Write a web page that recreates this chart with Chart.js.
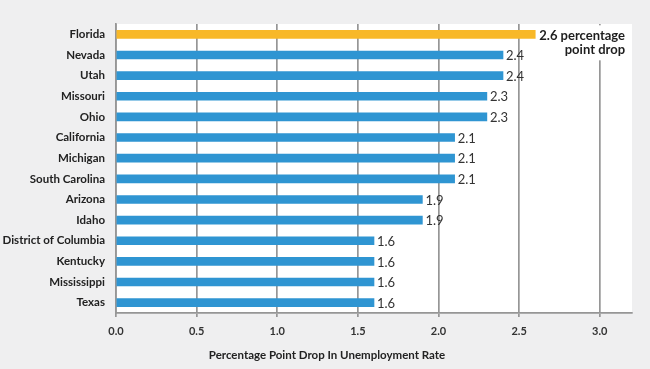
<!DOCTYPE html>
<html>
<head>
<meta charset="utf-8">
<script src="https://cdn.jsdelivr.net/npm/chart.js@4/dist/chart.umd.min.js"></script>
<style>
  html, body { margin: 0; padding: 0; background: #efeff0; }
  #wrap { width: 650px; height: 369px; }
</style>
</head>
<body>
<div id="wrap"><canvas id="barCanvas" width="650" height="369"></canvas></div>
<script>
// data
var states = ["Florida", "Nevada", "Utah", "Missouri", "Ohio", "California", "Michigan",
  "South Carolina", "Arizona", "Idaho", "District of Columbia", "Kentucky", "Mississippi", "Texas"];
var drops = [2.6, 2.4, 2.4, 2.3, 2.3, 2.1, 2.1, 2.1, 1.9, 1.9, 1.6, 1.6, 1.6, 1.6];
var tickValues = [0, 0.5, 1.0, 1.5, 2.0, 2.5, 3.0];
var tickLabels = ["0.0", "0.5", "1.0", "1.5", "2.0", "2.5", "3.0"];
var topNote = ["2.6 percentage", "point drop"];
var axisTitle = "Percentage Point Drop In Unemployment Rate";

var FONT = "Lato, 'Liberation Sans', sans-serif";
var barColors = drops.map(function (v, i) { return i === 0 ? "#f8b828" : "#2f95d2"; });

// white plot area on the grey page
var plotBg = {
  id: "plotBg",
  beforeDraw: function (chart) {
    var a = chart.chartArea, c = chart.ctx;
    c.save();
    c.fillStyle = "#ffffff";
    c.fillRect(a.left, a.top, a.right - a.left, a.bottom - a.top);
    c.restore();
  }
};

// value labels at the end of each bar
var valueLabels = {
  id: "valueLabels",
  afterDatasetsDraw: function (chart) {
    var c = chart.ctx;
    var meta = chart.getDatasetMeta(0);
    c.save();
    c.textBaseline = "middle";
    meta.data.forEach(function (bar, i) {
      if (i === 0) {
        c.font = "bold 13px " + FONT;
        var w1 = c.measureText(topNote[0]).width;
        var x0 = bar.x + 4;
        c.fillStyle = "#ffffff";
        c.fillRect(x0 - 1, bar.y - 9, w1 + 4, 35);
        c.fillStyle = "#1e1e1e";
        c.textAlign = "left";
        c.fillText(topNote[0], x0, bar.y + 1);
        c.textAlign = "right";
        c.fillText(topNote[1], x0 + w1, bar.y + 15);
      } else {
        c.font = "13px " + FONT;
        c.fillStyle = "#333333";
        c.textAlign = "left";
        c.fillText(drops[i].toFixed(1), bar.x + 3, bar.y + 1);
      }
    });
    c.restore();
  }
};

// x axis title, centred on the whole picture like the original
var bottomTitle = {
  id: "bottomTitle",
  afterDraw: function (chart) {
    var c = chart.ctx;
    c.save();
    c.font = "bold 11.5px " + FONT;
    c.fillStyle = "#222222";
    c.textAlign = "center";
    c.textBaseline = "middle";
    c.fillText(axisTitle, chart.width / 2 + 2, chart.height - 14);
    c.restore();
  }
};

var ctx = document.getElementById("barCanvas");
var chart = new Chart(ctx, {
  type: "bar",
  data: {
    labels: states,
    datasets: [{
      data: drops,
      backgroundColor: barColors,
      barThickness: 8,
      borderWidth: 0
    }]
  },
  plugins: [plotBg, valueLabels, bottomTitle],
  options: {
    indexAxis: "y",
    responsive: false,
    animation: false,
    layout: { padding: { top: 24, right: 18, left: 0, bottom: 0 } },
    plugins: {
      legend: { display: false },
      tooltip: { enabled: false }
    },
    scales: {
      x: {
        min: 0,
        max: 3.2,
        afterBuildTicks: function (scale) {
          scale.ticks = tickValues.map(function (v) { return { value: v }; });
        },
        afterFit: function (scale) { scale.height = 56; },
        ticks: {
          callback: function (v, i) { return tickLabels[i]; },
          color: "#333333",
          font: { family: FONT, size: 11, weight: "bold" },
          padding: 8,
          maxRotation: 0
        },
        grid: { color: "#969696", lineWidth: 1.7, tickLength: 4, drawTicks: true },
        border: { color: "#969696", width: 1.7 }
      },
      y: {
        afterFit: function (scale) { scale.width = 116; },
        ticks: {
          color: "#222222",
          font: { family: FONT, size: 11.5, weight: "bold" },
          padding: 3
        },
        grid: { display: false },
        border: { display: true, color: "#969696", width: 1.7 }
      }
    }
  }
});
</script>
</body>
</html>
